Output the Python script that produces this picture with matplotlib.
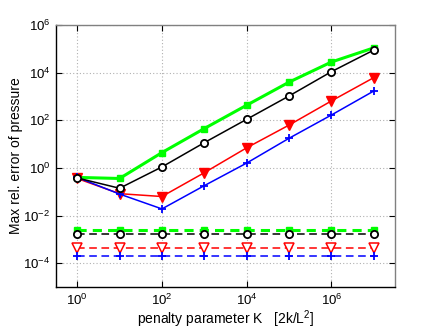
import matplotlib
matplotlib.use("Agg")
import matplotlib.pyplot as plt
import numpy as np

plt.rcParams['font.family'] = ['Liberation Sans', 'DejaVu Sans']
plt.rcParams['mathtext.fontset'] = 'custom'
plt.rcParams['mathtext.rm'] = 'Liberation Sans'

K = [1e0, 1e1, 1e2, 1e3, 1e4, 1e5, 1e6, 1e7]

green_solid = [0.40, 0.36, 4.4, 45, 430, 4000, 28000, 110000]
black_solid = [0.38, 0.14, 1.1, 11.5, 110, 1050, 11000, 89000]
red_solid = [0.36, 0.083, 0.063, 0.63, 7.0, 63, 650, 6200]
blue_solid = [0.40, 0.080, 0.019, 0.18, 1.6, 17.6, 167, 1700]

green_dash = [2.5e-3] * 8
black_dash = [1.7e-3] * 8
red_dash = [4.2e-4] * 8
blue_dash = [2.0e-4] * 8

fig = plt.figure(figsize=(4.36, 3.27), dpi=100)
ax = fig.add_axes([0.1284, 0.1223, 0.7776, 0.8012])

GREEN = '#00ff00'
ax.plot(K, green_solid, '-', color=GREEN, lw=2.2, marker='s', ms=5, mfc=GREEN, mec=GREEN, zorder=3)
ax.plot(K, black_solid, '-', color='black', lw=1.1, marker='o', ms=5.2, mfc='white', mec='black', mew=1.3, zorder=4)
ax.plot(K, red_solid, '-', color='red', lw=1.1, marker='v', ms=6.5, mfc='red', mec='red', zorder=3)
ax.plot(K, blue_solid, '-', color='blue', lw=1.1, marker='+', ms=5.5, mec='blue', mew=1.3, zorder=3)

ax.plot(K, green_dash, '--', color=GREEN, lw=2.2, marker='s', ms=5, mfc=GREEN, mec=GREEN, dashes=(3, 2), zorder=3)
ax.plot(K, black_dash, '--', color='black', lw=1.1, marker='o', ms=5.2, mfc='white', mec='black', mew=1.3, dashes=(5, 3), zorder=4)
ax.plot(K, red_dash, '--', color='red', lw=1.1, marker='v', ms=6.5, mfc='white', mec='red', mew=1.1, dashes=(5, 3), zorder=3)
ax.plot(K, blue_dash, '--', color='blue', lw=1.1, marker='+', ms=5.5, mec='blue', mew=1.3, dashes=(5, 3), zorder=3)

ax.set_xscale('log')
ax.set_yscale('log')
ax.set_xlim(10**-0.5, 10**7.5)
ax.set_ylim(1e-5, 1e6)

ax.set_xticks([1e0, 1e2, 1e4, 1e6])
ax.set_xticklabels([r'$10^{0}$', r'$10^{2}$', r'$10^{4}$', r'$10^{6}$'])
ax.set_yticks([1e-4, 1e-2, 1e0, 1e2, 1e4, 1e6])
ax.set_yticklabels([r'$10^{-4}$', r'$10^{-2}$', r'$10^{0}$', r'$10^{2}$', r'$10^{4}$', r'$10^{6}$'])
ax.minorticks_off()

ax.grid(True, which='major', color='#b0b0b0', linestyle=(0, (1, 2)), linewidth=0.8)
ax.tick_params(direction='in', length=4, labelsize=9.5, top=True, right=True, width=0.8, pad=4)

for s in ['top', 'right']:
    ax.spines[s].set_color('#808080')
for s in ['left', 'bottom']:
    ax.spines[s].set_color('black')
for s in ax.spines.values():
    s.set_linewidth(1.0)

ax.set_xlabel(r'penalty parameter K   [2k/L$^2$]', fontsize=10)
ax.set_ylabel('Max rel. error of pressure', fontsize=10)
ax.xaxis.set_label_coords(0.5, -0.082)
ax.yaxis.set_label_coords(-0.098, 0.5)

fig.savefig('out.png', dpi=100)
